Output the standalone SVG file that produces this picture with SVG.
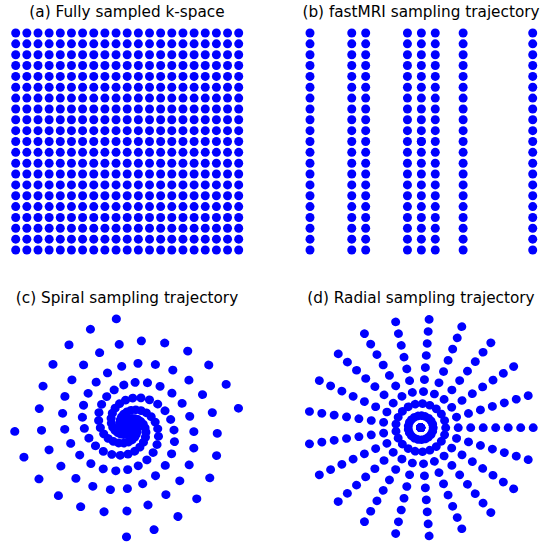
<svg xmlns="http://www.w3.org/2000/svg" xmlns:xlink="http://www.w3.org/1999/xlink" width="543" height="543" viewBox="0 0 543 543">
<style>
.title{font-family:"DejaVu Sans","Liberation Sans",sans-serif;font-size:15.28px;fill:#000;text-anchor:middle}
.dots{fill:#0000ff}
</style>
<defs>
<circle id="d" r="4.5"/>
<circle id="ds" r="4.45"/>
<g id="row">
<use href="#d" x="15.7"/><use href="#d" x="26.85"/><use href="#d" x="38"/><use href="#d" x="49.15"/><use href="#d" x="60.3"/><use href="#d" x="71.45"/><use href="#d" x="82.6"/><use href="#d" x="93.75"/><use href="#d" x="104.9"/><use href="#d" x="116.05"/><use href="#d" x="127.2"/><use href="#d" x="138.35"/><use href="#d" x="149.5"/><use href="#d" x="160.65"/><use href="#d" x="171.8"/><use href="#d" x="182.95"/><use href="#d" x="194.1"/><use href="#d" x="205.25"/><use href="#d" x="216.4"/><use href="#d" x="227.55"/><use href="#d" x="238.7"/>
</g>
<g id="col">
<use href="#d" y="33"/><use href="#d" y="43.85"/><use href="#d" y="54.7"/><use href="#d" y="65.55"/><use href="#d" y="76.4"/><use href="#d" y="87.25"/><use href="#d" y="98.1"/><use href="#d" y="108.95"/><use href="#d" y="119.8"/><use href="#d" y="130.65"/><use href="#d" y="141.5"/><use href="#d" y="152.35"/><use href="#d" y="163.2"/><use href="#d" y="174.05"/><use href="#d" y="184.9"/><use href="#d" y="195.75"/><use href="#d" y="206.6"/><use href="#d" y="217.45"/><use href="#d" y="228.3"/><use href="#d" y="239.15"/><use href="#d" y="250"/>
</g>
<g id="spoke">
<use href="#d" x="0"/><use href="#d" x="12.5"/><use href="#d" x="25"/><use href="#d" x="37.5"/><use href="#d" x="50"/><use href="#d" x="62.5"/><use href="#d" x="75"/><use href="#d" x="87.5"/><use href="#d" x="100"/><use href="#d" x="112.5"/>
</g>
</defs>

<g id="panel-a">
<text class="title" x="127" y="17">(a) Fully sampled k-space</text>
<g class="dots">
<use href="#row" y="33"/><use href="#row" y="43.85"/><use href="#row" y="54.7"/><use href="#row" y="65.55"/><use href="#row" y="76.4"/><use href="#row" y="87.25"/><use href="#row" y="98.1"/><use href="#row" y="108.95"/><use href="#row" y="119.8"/><use href="#row" y="130.65"/><use href="#row" y="141.5"/><use href="#row" y="152.35"/><use href="#row" y="163.2"/><use href="#row" y="174.05"/><use href="#row" y="184.9"/><use href="#row" y="195.75"/><use href="#row" y="206.6"/><use href="#row" y="217.45"/><use href="#row" y="228.3"/><use href="#row" y="239.15"/><use href="#row" y="250"/>
</g>
</g>

<g id="panel-b">
<text class="title" x="421" y="17">(b) fastMRI sampling trajectory</text>
<g class="dots">
<use href="#col" x="310"/><use href="#col" x="351.76"/><use href="#col" x="365.68"/><use href="#col" x="407.44"/><use href="#col" x="421.36"/><use href="#col" x="435.28"/><use href="#col" x="463.12"/><use href="#col" x="532.72"/>
<use href="#d" x="421.36" y="141.5"/>
</g>
</g>

<g id="panel-c">
<text class="title" x="127" y="303.3">(c) Spiral sampling trajectory</text>
<g class="dots" transform="translate(128.5,426.5) scale(1.0268,0.9857)">
<g transform="rotate(91)">
<use href="#ds" transform="rotate(14.4)" x="0.045"/><use href="#ds" transform="rotate(28.8)" x="0.179"/><use href="#ds" transform="rotate(43.2)" x="0.403"/><use href="#ds" transform="rotate(57.6)" x="0.717"/><use href="#ds" transform="rotate(72)" x="1.12"/><use href="#ds" transform="rotate(86.4)" x="1.613"/><use href="#ds" transform="rotate(100.8)" x="2.195"/><use href="#ds" transform="rotate(115.2)" x="2.867"/><use href="#ds" transform="rotate(129.6)" x="3.629"/><use href="#ds" transform="rotate(144)" x="4.48"/><use href="#ds" transform="rotate(158.4)" x="5.421"/><use href="#ds" transform="rotate(172.8)" x="6.451"/><use href="#ds" transform="rotate(187.2)" x="7.571"/><use href="#ds" transform="rotate(201.6)" x="8.781"/><use href="#ds" transform="rotate(216)" x="10.08"/><use href="#ds" transform="rotate(230.4)" x="11.469"/><use href="#ds" transform="rotate(244.8)" x="12.947"/><use href="#ds" transform="rotate(259.2)" x="14.515"/><use href="#ds" transform="rotate(273.6)" x="16.173"/><use href="#ds" transform="rotate(288)" x="17.92"/><use href="#ds" transform="rotate(302.4)" x="19.757"/><use href="#ds" transform="rotate(316.8)" x="21.683"/><use href="#ds" transform="rotate(331.2)" x="23.699"/><use href="#ds" transform="rotate(345.6)" x="25.805"/><use href="#ds" transform="rotate(360)" x="28"/><use href="#ds" transform="rotate(374.4)" x="30.285"/><use href="#ds" transform="rotate(388.8)" x="32.659"/><use href="#ds" transform="rotate(403.2)" x="35.123"/><use href="#ds" transform="rotate(417.6)" x="37.677"/><use href="#ds" transform="rotate(432)" x="40.32"/><use href="#ds" transform="rotate(446.4)" x="43.053"/><use href="#ds" transform="rotate(460.8)" x="45.875"/><use href="#ds" transform="rotate(475.2)" x="48.787"/><use href="#ds" transform="rotate(489.6)" x="51.789"/><use href="#ds" transform="rotate(504)" x="54.88"/><use href="#ds" transform="rotate(518.4)" x="58.061"/><use href="#ds" transform="rotate(532.8)" x="61.331"/><use href="#ds" transform="rotate(547.2)" x="64.691"/><use href="#ds" transform="rotate(561.6)" x="68.141"/><use href="#ds" transform="rotate(576)" x="71.68"/><use href="#ds" transform="rotate(590.4)" x="75.309"/><use href="#ds" transform="rotate(604.8)" x="79.027"/><use href="#ds" transform="rotate(619.2)" x="82.835"/><use href="#ds" transform="rotate(633.6)" x="86.733"/><use href="#ds" transform="rotate(648)" x="90.72"/><use href="#ds" transform="rotate(662.4)" x="94.797"/><use href="#ds" transform="rotate(676.8)" x="98.963"/><use href="#ds" transform="rotate(691.2)" x="103.219"/><use href="#ds" transform="rotate(705.6)" x="107.565"/><use href="#ds" transform="rotate(720)" x="112"/>
</g>
<g transform="rotate(177.4)">
<use href="#ds" transform="rotate(14.4)" x="0.025"/><use href="#ds" transform="rotate(28.8)" x="0.137"/><use href="#ds" transform="rotate(43.2)" x="0.339"/><use href="#ds" transform="rotate(57.6)" x="0.63"/><use href="#ds" transform="rotate(72)" x="1.011"/><use href="#ds" transform="rotate(86.4)" x="1.481"/><use href="#ds" transform="rotate(100.8)" x="2.041"/><use href="#ds" transform="rotate(115.2)" x="2.691"/><use href="#ds" transform="rotate(129.6)" x="3.43"/><use href="#ds" transform="rotate(144)" x="4.259"/><use href="#ds" transform="rotate(158.4)" x="5.177"/><use href="#ds" transform="rotate(172.8)" x="6.185"/><use href="#ds" transform="rotate(187.2)" x="7.283"/><use href="#ds" transform="rotate(201.6)" x="8.47"/><use href="#ds" transform="rotate(216)" x="9.747"/><use href="#ds" transform="rotate(230.4)" x="11.113"/><use href="#ds" transform="rotate(244.8)" x="12.569"/><use href="#ds" transform="rotate(259.2)" x="14.115"/><use href="#ds" transform="rotate(273.6)" x="15.75"/><use href="#ds" transform="rotate(288)" x="17.475"/><use href="#ds" transform="rotate(302.4)" x="19.289"/><use href="#ds" transform="rotate(316.8)" x="21.193"/><use href="#ds" transform="rotate(331.2)" x="23.187"/><use href="#ds" transform="rotate(345.6)" x="25.27"/><use href="#ds" transform="rotate(360)" x="27.443"/><use href="#ds" transform="rotate(374.4)" x="29.705"/><use href="#ds" transform="rotate(388.8)" x="32.057"/><use href="#ds" transform="rotate(403.2)" x="34.499"/><use href="#ds" transform="rotate(417.6)" x="37.03"/><use href="#ds" transform="rotate(432)" x="39.651"/><use href="#ds" transform="rotate(446.4)" x="42.361"/><use href="#ds" transform="rotate(460.8)" x="45.161"/><use href="#ds" transform="rotate(475.2)" x="48.051"/><use href="#ds" transform="rotate(489.6)" x="51.03"/><use href="#ds" transform="rotate(504)" x="54.099"/><use href="#ds" transform="rotate(518.4)" x="57.257"/><use href="#ds" transform="rotate(532.8)" x="60.505"/><use href="#ds" transform="rotate(547.2)" x="63.843"/><use href="#ds" transform="rotate(561.6)" x="67.27"/><use href="#ds" transform="rotate(576)" x="70.787"/><use href="#ds" transform="rotate(590.4)" x="74.393"/><use href="#ds" transform="rotate(604.8)" x="78.089"/><use href="#ds" transform="rotate(619.2)" x="81.875"/><use href="#ds" transform="rotate(633.6)" x="85.75"/><use href="#ds" transform="rotate(648)" x="89.715"/><use href="#ds" transform="rotate(662.4)" x="93.769"/><use href="#ds" transform="rotate(676.8)" x="97.913"/><use href="#ds" transform="rotate(691.2)" x="102.147"/><use href="#ds" transform="rotate(705.6)" x="106.47"/><use href="#ds" transform="rotate(720)" x="110.883"/>
</g>
<g transform="rotate(263.8)">
<use href="#ds" transform="rotate(14.4)" x="0.011"/><use href="#ds" transform="rotate(28.8)" x="0.101"/><use href="#ds" transform="rotate(43.2)" x="0.28"/><use href="#ds" transform="rotate(57.6)" x="0.549"/><use href="#ds" transform="rotate(72)" x="0.907"/><use href="#ds" transform="rotate(86.4)" x="1.355"/><use href="#ds" transform="rotate(100.8)" x="1.893"/><use href="#ds" transform="rotate(115.2)" x="2.52"/><use href="#ds" transform="rotate(129.6)" x="3.237"/><use href="#ds" transform="rotate(144)" x="4.043"/><use href="#ds" transform="rotate(158.4)" x="4.939"/><use href="#ds" transform="rotate(172.8)" x="5.925"/><use href="#ds" transform="rotate(187.2)" x="7"/><use href="#ds" transform="rotate(201.6)" x="8.165"/><use href="#ds" transform="rotate(216)" x="9.419"/><use href="#ds" transform="rotate(230.4)" x="10.763"/><use href="#ds" transform="rotate(244.8)" x="12.197"/><use href="#ds" transform="rotate(259.2)" x="13.72"/><use href="#ds" transform="rotate(273.6)" x="15.333"/><use href="#ds" transform="rotate(288)" x="17.035"/><use href="#ds" transform="rotate(302.4)" x="18.827"/><use href="#ds" transform="rotate(316.8)" x="20.709"/><use href="#ds" transform="rotate(331.2)" x="22.68"/><use href="#ds" transform="rotate(345.6)" x="24.741"/><use href="#ds" transform="rotate(360)" x="26.891"/><use href="#ds" transform="rotate(374.4)" x="29.131"/><use href="#ds" transform="rotate(388.8)" x="31.461"/><use href="#ds" transform="rotate(403.2)" x="33.88"/><use href="#ds" transform="rotate(417.6)" x="36.389"/><use href="#ds" transform="rotate(432)" x="38.987"/><use href="#ds" transform="rotate(446.4)" x="41.675"/><use href="#ds" transform="rotate(460.8)" x="44.453"/><use href="#ds" transform="rotate(475.2)" x="47.32"/><use href="#ds" transform="rotate(489.6)" x="50.277"/><use href="#ds" transform="rotate(504)" x="53.323"/><use href="#ds" transform="rotate(518.4)" x="56.459"/><use href="#ds" transform="rotate(532.8)" x="59.685"/><use href="#ds" transform="rotate(547.2)" x="63"/><use href="#ds" transform="rotate(561.6)" x="66.405"/><use href="#ds" transform="rotate(576)" x="69.899"/><use href="#ds" transform="rotate(590.4)" x="73.483"/><use href="#ds" transform="rotate(604.8)" x="77.157"/><use href="#ds" transform="rotate(619.2)" x="80.92"/><use href="#ds" transform="rotate(633.6)" x="84.773"/><use href="#ds" transform="rotate(648)" x="88.715"/><use href="#ds" transform="rotate(662.4)" x="92.747"/><use href="#ds" transform="rotate(676.8)" x="96.869"/><use href="#ds" transform="rotate(691.2)" x="101.08"/><use href="#ds" transform="rotate(705.6)" x="105.381"/><use href="#ds" transform="rotate(720)" x="109.771"/>
</g>
<g transform="rotate(350.2)">
<use href="#ds" transform="rotate(14.4)" x="0.003"/><use href="#ds" transform="rotate(28.8)" x="0.07"/><use href="#ds" transform="rotate(43.2)" x="0.227"/><use href="#ds" transform="rotate(57.6)" x="0.473"/><use href="#ds" transform="rotate(72)" x="0.809"/><use href="#ds" transform="rotate(86.4)" x="1.235"/><use href="#ds" transform="rotate(100.8)" x="1.75"/><use href="#ds" transform="rotate(115.2)" x="2.355"/><use href="#ds" transform="rotate(129.6)" x="3.049"/><use href="#ds" transform="rotate(144)" x="3.833"/><use href="#ds" transform="rotate(158.4)" x="4.707"/><use href="#ds" transform="rotate(172.8)" x="5.67"/><use href="#ds" transform="rotate(187.2)" x="6.723"/><use href="#ds" transform="rotate(201.6)" x="7.865"/><use href="#ds" transform="rotate(216)" x="9.097"/><use href="#ds" transform="rotate(230.4)" x="10.419"/><use href="#ds" transform="rotate(244.8)" x="11.83"/><use href="#ds" transform="rotate(259.2)" x="13.331"/><use href="#ds" transform="rotate(273.6)" x="14.921"/><use href="#ds" transform="rotate(288)" x="16.601"/><use href="#ds" transform="rotate(302.4)" x="18.371"/><use href="#ds" transform="rotate(316.8)" x="20.23"/><use href="#ds" transform="rotate(331.2)" x="22.179"/><use href="#ds" transform="rotate(345.6)" x="24.217"/><use href="#ds" transform="rotate(360)" x="26.345"/><use href="#ds" transform="rotate(374.4)" x="28.563"/><use href="#ds" transform="rotate(388.8)" x="30.87"/><use href="#ds" transform="rotate(403.2)" x="33.267"/><use href="#ds" transform="rotate(417.6)" x="35.753"/><use href="#ds" transform="rotate(432)" x="38.329"/><use href="#ds" transform="rotate(446.4)" x="40.995"/><use href="#ds" transform="rotate(460.8)" x="43.75"/><use href="#ds" transform="rotate(475.2)" x="46.595"/><use href="#ds" transform="rotate(489.6)" x="49.529"/><use href="#ds" transform="rotate(504)" x="52.553"/><use href="#ds" transform="rotate(518.4)" x="55.667"/><use href="#ds" transform="rotate(532.8)" x="58.87"/><use href="#ds" transform="rotate(547.2)" x="62.163"/><use href="#ds" transform="rotate(561.6)" x="65.545"/><use href="#ds" transform="rotate(576)" x="69.017"/><use href="#ds" transform="rotate(590.4)" x="72.579"/><use href="#ds" transform="rotate(604.8)" x="76.23"/><use href="#ds" transform="rotate(619.2)" x="79.971"/><use href="#ds" transform="rotate(633.6)" x="83.801"/><use href="#ds" transform="rotate(648)" x="87.721"/><use href="#ds" transform="rotate(662.4)" x="91.731"/><use href="#ds" transform="rotate(676.8)" x="95.83"/><use href="#ds" transform="rotate(691.2)" x="100.019"/><use href="#ds" transform="rotate(705.6)" x="104.297"/><use href="#ds" transform="rotate(720)" x="108.665"/>
</g>
</g>
</g>

<g id="panel-d">
<text class="title" x="421" y="303.3">(d) Radial sampling trajectory</text>
<g class="dots" transform="translate(420.7,427.7) scale(1,0.965)">
<use href="#spoke"/><use href="#spoke" transform="rotate(17.143)"/><use href="#spoke" transform="rotate(34.286)"/><use href="#spoke" transform="rotate(51.429)"/><use href="#spoke" transform="rotate(68.571)"/><use href="#spoke" transform="rotate(85.714)"/><use href="#spoke" transform="rotate(102.857)"/><use href="#spoke" transform="rotate(120)"/><use href="#spoke" transform="rotate(137.143)"/><use href="#spoke" transform="rotate(154.286)"/><use href="#spoke" transform="rotate(171.429)"/><use href="#spoke" transform="rotate(188.571)"/><use href="#spoke" transform="rotate(205.714)"/><use href="#spoke" transform="rotate(222.857)"/><use href="#spoke" transform="rotate(240)"/><use href="#spoke" transform="rotate(257.143)"/><use href="#spoke" transform="rotate(274.286)"/><use href="#spoke" transform="rotate(291.429)"/><use href="#spoke" transform="rotate(308.571)"/><use href="#spoke" transform="rotate(325.714)"/><use href="#spoke" transform="rotate(342.857)"/>
</g>
</g>
</svg>
